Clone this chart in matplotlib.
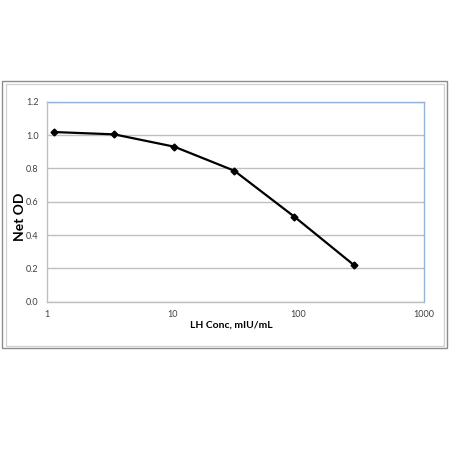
import matplotlib.pyplot as plt
from matplotlib.patches import Rectangle

# LH standard curve, 3-fold dilutions
conc = [1.14, 3.43, 10.3, 30.9, 92.6, 277.8]
net_od = [1.018, 1.004, 0.930, 0.786, 0.511, 0.219]
yticks = [0.0, 0.2, 0.4, 0.6, 0.8, 1.0, 1.2]
xticks = [1, 10, 100, 1000]

plt.rcParams['font.family'] = ['Lato', 'DejaVu Sans']

W, H = 450, 450
fig = plt.figure(figsize=(4.5, 4.5), dpi=100)
fig.patch.set_facecolor('white')

def box(x0, y0, x1, y1, color, lw):
    # pixel coords, y down
    r = Rectangle((x0 / W, 1 - y1 / H), (x1 - x0) / W, (y1 - y0) / H,
                  transform=fig.transFigure, fill=False, edgecolor=color, linewidth=lw)
    fig.patches.append(r)

box(1.5, 80.5, 446.5, 348, '#8c8c8c', 1.0)
box(5.5, 84, 443.5, 345.5, '#d0d0d0', 0.9)

ax = fig.add_axes([47 / W, 1 - 301.7 / H, (424 - 47) / W, 200 / H])
ax.set_xscale('log')
ax.set_xlim(1, 1000)
ax.set_ylim(0, 1.2)
ax.set_yticks(yticks)
ax.set_yticklabels(['%.1f' % v for v in yticks])
ax.set_xticks(xticks)
ax.set_xticklabels([str(v) for v in xticks])
ax.minorticks_off()
ax.tick_params(length=0, labelsize=6.5, colors='#404040')
ax.tick_params(axis='y', pad=6)
ax.tick_params(axis='x', pad=6)

ax.grid(axis='y', color='#bfbfbf', linewidth=1.0)
ax.set_axisbelow(True)
ax.spines['left'].set_color('#bfbfbf')
ax.spines['bottom'].set_color('#bfbfbf')
ax.spines['top'].set_color('#95b3d7')
ax.spines['right'].set_color('#95b3d7')
for s in ax.spines.values():
    s.set_linewidth(1.0)
ax.spines['left'].set_zorder(3)
ax.spines['bottom'].set_zorder(3)

ax.plot(conc, net_od, color='black', linewidth=1.6, marker='D', markersize=3.5,
        markerfacecolor='black', markeredgecolor='black', clip_on=False, zorder=4)

fig.text(231 / W, 1 - 325 / H, 'LH Conc, mIU/mL', ha='center', va='center',
         fontsize=7.5, fontweight='bold')
fig.text(20 / W, 1 - 217 / H, 'Net OD', ha='center', va='center',
         fontsize=10, fontweight='bold', rotation=90)

fig.savefig('out.png', dpi=100, facecolor='white')
